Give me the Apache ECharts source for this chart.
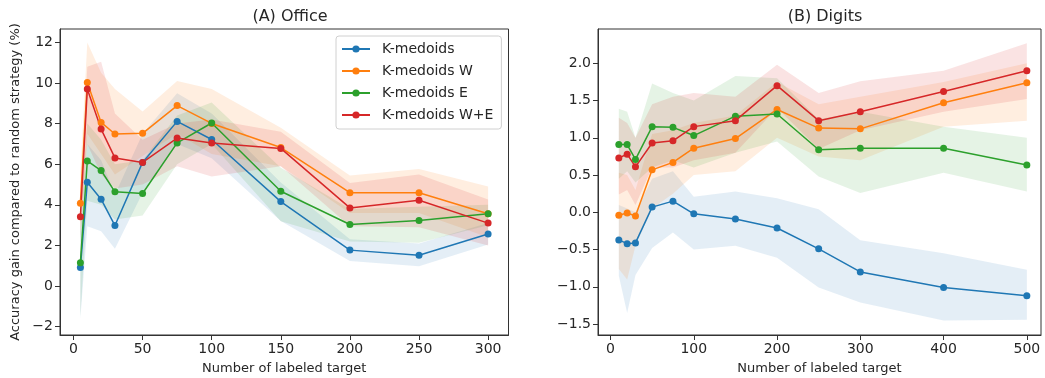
<!DOCTYPE html>
<html>
<head>
<meta charset="utf-8">
<script src="https://cdn.jsdelivr.net/npm/echarts@6.0.0/dist/echarts.min.js"></script>
<style>
html,body{margin:0;padding:0;background:#fff;}
#chart{width:1045px;height:378px;}
</style>
</head>
<body>
<div id="chart"></div>
<script>
// ---------- Data ----------
const seriesNames = ['K-medoids', 'K-medoids W', 'K-medoids E', 'K-medoids W+E'];
const panelTitles = ['(A) Office', '(B) Digits'];
const xAxisName = 'Number of labeled target';
const yAxisName = 'Accuracy gain compared to random strategy (%)';

// (A) Office
const officeX = [5, 10, 20, 30, 50, 75, 100, 150, 200, 250, 300];
const officeKM   = [0.92, 5.11, 4.28, 2.98, 6.09, 8.11, 7.22, 4.16, 1.77, 1.52, 2.56];
const officeKMW  = [4.08, 10.03, 8.06, 7.49, 7.52, 8.89, 8.01, 6.82, 4.60, 4.60, 3.56];
const officeKME  = [1.15, 6.16, 5.69, 4.64, 4.56, 7.05, 8.03, 4.67, 3.03, 3.23, 3.56];
const officeKMWE = [3.41, 9.70, 7.73, 6.31, 6.09, 7.29, 7.05, 6.78, 3.85, 4.23, 3.10];

const officeKMLo   = [-1.6, 2.95, 2.7, 1.84, 4.6, 7.0, 6.3, 3.2, 1.23, 0.98, 2.05];
const officeKMHi   = [2.6, 7.0, 6.2, 4.5, 7.5, 9.5, 8.5, 5.1, 2.3, 2.1, 3.1];
const officeKMWLo  = [2.5, 7.5, 6.5, 5.5, 6.4, 7.5, 6.5, 5.9, 3.6, 3.6, 2.4];
const officeKMWHi  = [5.6, 12.0, 10.5, 9.7, 8.6, 10.1, 9.7, 7.8, 5.45, 5.77, 4.9];
const officeKMELo  = [-1.5, 4.2, 4.0, 3.28, 3.47, 6.0, 7.0, 3.19, 2.2, 2.13, 3.0];
const officeKMEHi  = [3.6, 8.0, 7.2, 6.0, 6.2, 8.4, 9.04, 5.83, 3.8, 3.9, 4.0];
const officeKMWELo = [2.3, 7.0, 5.5, 4.8, 5.0, 5.9, 5.4, 5.9, 2.95, 2.9, 2.0];
const officeKMWEHi = [4.5, 10.8, 11.05, 8.5, 7.2, 8.0, 8.2, 7.6, 5.08, 5.49, 4.26];

// (B) Digits
const digitsX = [10, 20, 30, 50, 75, 100, 150, 200, 250, 300, 400, 500];
const digitsKM   = [-0.37, -0.42, -0.41, 0.07, 0.15, -0.02, -0.09, -0.21, -0.49, -0.80, -1.01, -1.12];
const digitsKMW  = [-0.04, -0.01, -0.05, 0.57, 0.67, 0.86, 0.99, 1.38, 1.13, 1.12, 1.47, 1.74];
const digitsKME  = [0.91, 0.91, 0.71, 1.15, 1.14, 1.03, 1.29, 1.32, 0.84, 0.86, 0.86, 0.635];
const digitsKMWE = [0.73, 0.78, 0.61, 0.93, 0.96, 1.15, 1.23, 1.70, 1.23, 1.35, 1.62, 1.90];

const digitsKMLo   = [-0.85, -1.35, -0.84, -0.48, -0.27, -0.5, -0.45, -0.61, -1.01, -1.21, -1.45, -1.44];
const digitsKMHi   = [0.1, 0.05, 0.0, 0.45, 0.55, 0.21, 0.28, 0.19, 0.04, -0.375, -0.55, -0.77];
const digitsKMWLo  = [-0.76, -0.9, -0.45, 0.05, 0.25, 0.5, 0.55, 1.0, 0.75, 0.7, 1.15, 1.23];
const digitsKMWHi  = [0.53, 0.5, 0.3, 1.05, 1.1, 1.2, 1.3, 1.75, 1.45, 1.55, 1.75, 2.0];
const digitsKMELo  = [0.45, 0.55, 0.4, 0.6, 0.7, 0.6, 0.8, 0.95, 0.48, 0.26, 0.53, 0.28];
const digitsKMEHi  = [1.39, 1.35, 1.0, 1.73, 1.6, 1.5, 1.83, 1.8, 1.25, 1.35, 1.15, 1.0];
const digitsKMWELo = [0.24, 0.3, 0.1, 0.6, 0.6, 0.7, 0.8, 1.4, 0.85, 1.1, 1.35, 1.52];
const digitsKMWEHi = [1.27, 1.2, 1.0, 1.45, 1.55, 1.6, 1.55, 1.98, 1.6, 1.76, 1.9, 2.27];

// Tick labels
const officeXTicks = [0, 50, 100, 150, 200, 250, 300];
const officeYTicks = [-2, 0, 2, 4, 6, 8, 10, 12];
const digitsXTicks = [0, 100, 200, 300, 400, 500];
const digitsYTicks = [-1.5, -1.0, -0.5, 0.0, 0.5, 1.0, 1.5, 2.0];

// ---------- Chart ----------
const colors = ['#1f77b4', '#ff7f0e', '#2ca02c', '#d62728'];
const fills = ['rgba(31,119,180,0.12)', 'rgba(255,127,14,0.13)', 'rgba(44,160,44,0.12)', 'rgba(214,39,40,0.13)'];
const FONT = 'DejaVu Sans';
const txt = '#262626';

function bandSeries(xs, lo, hi, fill, idx) {
  return {
    type: 'custom', xAxisIndex: idx, yAxisIndex: idx, silent: true, z: 1,
    data: xs.map((x, i) => [x, lo[i], hi[i]]),
    encode: { x: 0, y: [1, 2] },
    renderItem: function (params, api) {
      if (params.dataIndex !== 0) return null;
      const pts = [];
      for (let i = 0; i < xs.length; i++) pts.push(api.coord([xs[i], hi[i]]));
      for (let i = xs.length - 1; i >= 0; i--) pts.push(api.coord([xs[i], lo[i]]));
      return { type: 'polygon', shape: { points: pts }, style: { fill: fill, stroke: null } };
    }
  };
}
function lineSeries(name, xs, ys, color, idx) {
  return {
    name: name, type: 'line', xAxisIndex: idx, yAxisIndex: idx, z: 3,
    data: xs.map((x, i) => [x, ys[i]]),
    symbol: 'circle', symbolSize: 7, showSymbol: true,
    lineStyle: { color: color, width: 1.5 },
    itemStyle: { color: color },
    emphasis: { disabled: true }, animation: false
  };
}
const minus = v => String(v).replace('-', '\u2212');

function xAxis(idx, min, max, ticks) {
  return {
    type: 'value', gridIndex: idx, min: min, max: max,
    name: xAxisName, nameLocation: 'middle', nameGap: 27,
    nameTextStyle: { fontFamily: FONT, fontSize: 13, color: txt },
    axisLine: { show: true, onZero: false, lineStyle: { color: '#333', width: 1 } },
    axisTick: { show: true, length: 5, lineStyle: { color: '#333' }, customValues: ticks },
    axisLabel: { fontFamily: FONT, fontSize: 14, color: txt, margin: 7, customValues: ticks, formatter: v => minus(v) },
    splitLine: { show: false }
  };
}
function yAxis(idx, min, max, ticks, dec, withName) {
  const a = {
    type: 'value', gridIndex: idx, min: min, max: max,
    axisLine: { show: true, onZero: false, lineStyle: { color: '#333', width: 1 } },
    axisTick: { show: true, length: 5, lineStyle: { color: '#333' }, customValues: ticks },
    axisLabel: { fontFamily: FONT, fontSize: 14, color: txt, margin: 7, customValues: ticks,
      formatter: v => minus(Number(v).toFixed(dec)) },
    splitLine: { show: false }
  };
  if (withName) {
    a.name = yAxisName; a.nameLocation = 'middle'; a.nameGap = 38;
    a.nameTextStyle = { fontFamily: FONT, fontSize: 13, color: txt };
  }
  return a;
}

const series = [];
const office = [[officeKM, officeKMLo, officeKMHi], [officeKMW, officeKMWLo, officeKMWHi],
                [officeKME, officeKMELo, officeKMEHi], [officeKMWE, officeKMWELo, officeKMWEHi]];
const digits = [[digitsKM, digitsKMLo, digitsKMHi], [digitsKMW, digitsKMWLo, digitsKMWHi],
                [digitsKME, digitsKMELo, digitsKMEHi], [digitsKMWE, digitsKMWELo, digitsKMWEHi]];
office.forEach((d, k) => series.push(bandSeries(officeX, d[1], d[2], fills[k], 0)));
digits.forEach((d, k) => series.push(bandSeries(digitsX, d[1], d[2], fills[k], 1)));
office.forEach((d, k) => series.push(lineSeries(seriesNames[k], officeX, d[0], colors[k], 0)));
digits.forEach((d, k) => series.push(lineSeries(seriesNames[k], digitsX, d[0], colors[k], 1)));

const chart = echarts.init(document.getElementById('chart'), null, { renderer: 'canvas' });
chart.setOption({
  animation: false,
  backgroundColor: '#fff',
  title: [
    { text: panelTitles[0], left: 285, top: 4, textAlign: 'center',
      textStyle: { fontFamily: FONT, fontSize: 16, fontWeight: 'normal', color: txt } },
    { text: panelTitles[1], left: 820, top: 4, textAlign: 'center',
      textStyle: { fontFamily: FONT, fontSize: 16, fontWeight: 'normal', color: txt } }
  ],
  legend: {
    data: seriesNames, orient: 'vertical', left: 336, top: 36,
    itemWidth: 28, itemHeight: 9, itemGap: 6,
    padding: [5, 8, 6, 5],
    backgroundColor: '#fff', borderColor: '#d0d0d0', borderWidth: 1, borderRadius: 3,
    textStyle: { fontFamily: FONT, fontSize: 14, color: txt, padding: [0, 0, 0, 7], lineHeight: 16 },
    selectedMode: false
  },
  grid: [
    { left: 60, top: 29, width: 448.5, height: 306, outerBoundsMode: 'none', containLabel: false,
      show: true, borderColor: '#333', borderWidth: 1, backgroundColor: 'transparent' },
    { left: 598, top: 29, width: 443, height: 306, outerBoundsMode: 'none', containLabel: false,
      show: true, borderColor: '#333', borderWidth: 1, backgroundColor: 'transparent' }
  ],
  xAxis: [xAxis(0, -9.75, 314.75, officeXTicks), xAxis(1, -15, 517, digitsXTicks)],
  yAxis: [yAxis(0, -2.41, 12.66, officeYTicks, 0, true), yAxis(1, -1.646, 2.46, digitsYTicks, 1, false)],
  series: series
});
</script>
</body>
</html>
